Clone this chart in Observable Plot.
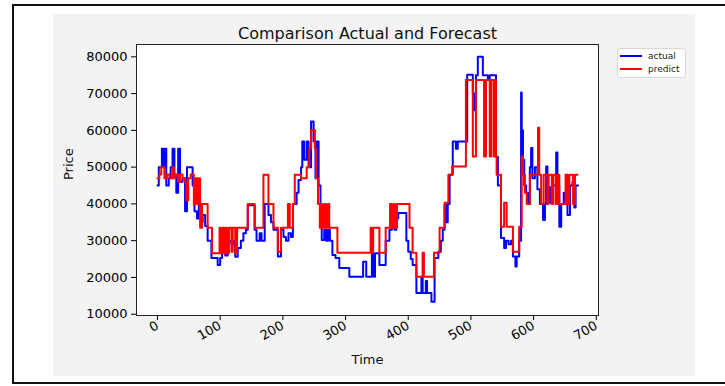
<!DOCTYPE html>
<html><head><meta charset="utf-8">
<script src="https://cdn.jsdelivr.net/npm/d3@7"></script>
<script src="https://cdn.jsdelivr.net/npm/@observablehq/plot@0.6"></script>
<style>
body{margin:0;background:#fff;font-family:"DejaVu Sans",sans-serif;}
#wrap{position:relative;width:725px;height:386px;overflow:hidden;}
#outer{position:absolute;left:12px;top:4px;width:722px;height:380px;border:2px solid #111;box-sizing:border-box;}
#gray{position:absolute;left:53px;top:14px;width:642px;height:362px;background:#f3f3f3;}
#chart{position:absolute;left:0;top:0;}
#legend{position:absolute;left:617px;top:48px;width:69px;height:30px;background:#fff;border:1px solid #d8d8d8;border-radius:3px;box-sizing:border-box;font-size:9px;color:#222;}
.lk{position:absolute;left:2px;width:22px;height:2px;}
.lt{position:absolute;left:30px;line-height:10px;}
</style></head>
<body>
<div id="wrap">
  <div id="outer"></div>
  <div id="gray"></div>
  <div id="chart"></div>
  <div id="legend">
    <div class="lk" style="top:6px;background:#0000ff"></div><div class="lt" style="top:2px">actual</div>
    <div class="lk" style="top:19px;background:#ff0000"></div><div class="lt" style="top:15px">predict</div>
  </div>
</div>
<script>
const titleText = "Comparison Actual and Forecast";
const xLabel = "Time";
const yLabel = "Price";
const xTicks = [0,100,200,300,400,500,600,700];
const yTicks = [10000,20000,30000,40000,50000,60000,70000,80000];

// change points (value held until the next time index)
const actualTime = [0,2,7,10,12,14,18,21,24,27,30,33,36,40,44,47,56,59,63,66,69,72,76,80,86,96,100,103,108,112,118,122,124,128,133,137,141,144,155,158,163,166,171,177,181,185,192,197,201,205,209,213,216,222,225,229,231,234,238,241,245,249,252,254,257,260,262,266,269,272,275,279,284,290,306,328,333,342,345,347,354,364,370,374,378,381,384,397,400,404,407,413,421,423,428,430,437,442,448,452,455,458,461,463,466,471,476,479,494,503,505,508,511,519,527,530,540,543,548,553,556,560,564,567,571,573,577,580,581,583,585,588,591,594,596,598,602,606,610,615,618,620,622,626,631,636,638,641,644,648,651,654,658,662,665,667,671];
const actualPrice = [45000,50000,55000,50000,55000,45000,47000,50000,55000,48000,43000,55000,46000,47000,38000,50000,45000,38000,36000,40000,35000,37000,34000,30000,25300,23400,25300,26700,26000,30000,29000,30000,25600,28000,30000,32000,33000,39600,33000,30000,32000,30000,40000,37000,35000,33000,25700,33000,31000,30000,32000,31000,40000,43000,46500,50000,57000,52000,57000,50000,62400,57000,47000,57000,45000,37000,30200,33000,30000,33000,30000,26100,25300,22600,20200,24300,20200,26600,20200,26600,23400,30000,33000,35000,33000,36000,37500,30000,27000,25000,23400,15800,20000,15800,19000,15800,13400,25300,27000,30000,33000,39700,35000,40000,47900,57000,55000,57000,75100,70000,65500,75000,80000,75000,74000,75000,52800,45000,30700,28000,30000,29000,30000,25700,23000,25700,30000,70300,60000,52000,45000,43000,40000,50000,55200,47000,50000,44000,40000,35600,40000,50200,44600,40300,45000,54000,45000,33800,40000,43000,40000,37000,45000,46000,39000,45000,45000];

const predictTime = [0,3,6,11,15,19,24,26,29,33,36,40,44,46,49,53,58,61,64,66,68,71,80,87,99,101,104,106,108,111,114,118,120,124,127,144,155,169,177,185,192,197,208,211,216,219,229,238,242,245,251,253,256,259,262,264,267,269,272,274,287,340,342,344,346,354,364,371,374,377,379,382,402,407,413,423,425,441,450,458,464,470,492,503,508,521,524,530,532,536,538,540,541,548,553,557,567,577,581,583,586,589,594,607,609,612,616,622,624,629,631,635,638,641,651,654,657,663,666,670];
const predictPrice = [47000,48000,50000,47000,48000,47000,50000,47000,48000,46000,48000,47000,46000,41000,47000,48000,40000,47000,40000,47000,33500,40000,33500,26600,33500,26600,33500,26600,33500,26600,33500,27000,33500,26600,33500,40000,33500,47900,40000,33500,27000,33500,40000,33500,40000,47900,47000,50000,55000,60100,55000,47000,40000,33500,40000,33500,40000,33500,40000,33500,26700,33500,26700,33500,33500,26700,33500,40000,33500,40000,33500,40000,33500,26700,20200,26700,20200,26700,33500,40300,47900,50200,73700,52900,73700,52900,73700,52900,73700,52900,73700,52900,47900,33800,40300,33800,27000,33800,52900,47900,43000,40000,47900,60700,47900,40000,47900,40000,47900,40000,47900,40000,47900,40000,47900,40000,47900,40000,47900,47900];

const actual = actualTime.map((t,i)=>({t, v: actualPrice[i]}));
const predict = predictTime.map((t,i)=>({t, v: predictPrice[i]}));

const chart = Plot.plot({
  width: 725, height: 386,
  marginLeft: 136, marginRight: 127, marginTop: 44, marginBottom: 71,
  style: {background: "transparent", fontFamily: "DejaVu Sans", fontSize: "13px", color: "#000"},
  x: {domain: [-33.5, 703.5]},
  y: {domain: [9650, 83350]},
  marks: [
    Plot.frame({fill: "white"}),
    Plot.axisY({ticks: yTicks, tickFormat: d => String(d), tickSize: 5, tickPadding: 4, label: null, fontSize: 13}),
    Plot.axisX({ticks: xTicks, tickFormat: d => String(d), tickSize: 5, tickPadding: 4, tickRotate: -30, label: null, fontSize: 13}),
    Plot.line(actual, {x: "t", y: "v", curve: "step-after", stroke: "#0000ff", strokeWidth: 2}),
    Plot.line(predict, {x: "t", y: "v", curve: "step-after", stroke: "#ff0000", strokeWidth: 2}),
    Plot.frame({stroke: "#222"}),
    Plot.text([titleText], {text: d => d, frameAnchor: "top", dy: -17, fontSize: 16, fill: "#111"}),
    Plot.text([yLabel], {text: d => d, frameAnchor: "left", dx: -68, rotate: -90, fontSize: 13, fill: "#111"}),
    Plot.text([xLabel], {text: d => d, frameAnchor: "bottom", dy: 48, fontSize: 13, fill: "#111"})
  ]
});
document.getElementById("chart").appendChild(chart);
</script>
</body></html>
